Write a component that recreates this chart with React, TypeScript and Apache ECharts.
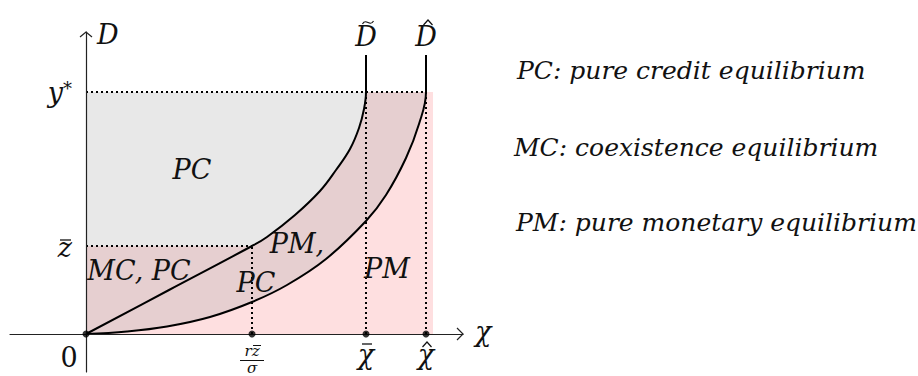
import React, { useEffect, useRef } from 'react';
import * as echarts from 'echarts';

// ---- data (axis units) ----
const xRange = [-7.6, 37.7];
const yRange = [-3.8, 30.2];

const xTickValues = [0, 16.6, 28.0, 34.0];
const xTickLabels = ['0', 'rz/σ', 'χ', 'χ'];
const xTickAccents = ['', 'bar', 'bar', 'hat'];
const yTickValues = [8.8, 24.2];
const yTickLabels = ['z', 'y*'];

const zBar = 8.8;
const yStar = 24.2;
const curveTop = 27.9;
const pinkRight = 34.7;

// D-tilde curve
const dTilde: number[][] = [
  [0, 0], [8.3, 4.4], [16.6, 8.8], [18.1, 9.7], [20.9, 11.9], [23.4, 14.3],
  [25.0, 16.4], [26.4, 18.5], [27.3, 20.6], [27.8, 22.5], [28.0, 24.2], [28.0, curveTop],
];
// D-hat curve
const dHat: number[][] = [
  [0, 0], [4.1, 0.25], [8.1, 0.75], [12.4, 1.7], [16.6, 3.2], [20.1, 4.9],
  [24.0, 7.5], [28.0, 11.3], [30.0, 13.9], [32.0, 17.6], [33.3, 21.0], [34.0, 24.2], [34.0, curveTop],
];

const curveNames = ['D', 'D'];
const curveAccents = ['tilde', 'hat'];
const axisNames = ['χ', 'D'];
const regionNames = ['PC', 'MC, PC', 'PM,', 'PC', 'PM'];
const regionAt: number[][] = [[10.6, 16.6], [5.3, 6.5], [21.1, 9.2], [17.0, 5.3], [30.1, 6.7]];
const legendLines = [
  'PC: pure credit equilibrium',
  'MC: coexistence equilibrium',
  'PM: pure monetary equilibrium',
];

const FONT = "'DejaVu Serif', serif";
const PINK = '#fedfe0';
const BROWN = '#e6cfd0';
const GRAY = '#e8e8e8';
const INK = '#111';
const LBL = 27;

export default function App() {
  const ref = useRef<HTMLDivElement>(null);
  useEffect(() => {
    document.body.style.margin = '0';
    const chart = echarts.init(ref.current!, undefined, { renderer: 'svg' });

    const polySeries = (pts: number[][], fill: string, z: number) => ({
      type: 'custom',
      coordinateSystem: 'cartesian2d',
      data: [[0, 0]],
      silent: true,
      clip: false,
      z,
      renderItem: (_p: any, api: any) => ({
        type: 'polygon',
        shape: { points: pts.map((p) => api.coord(p)) },
        style: { fill, stroke: null },
      }),
    });

    const pinkPts = [[0, 0], [pinkRight, 0], [pinkRight, yStar], [0, yStar]];
    const brownPts = [...dHat.filter((p) => p[1] <= yStar), [0, yStar]];
    const grayPts = [[0, zBar], ...dTilde.filter((p) => p[1] >= zBar && p[1] <= yStar), [0, yStar]];

    const guides = [
      [[0, yStar], [xTickValues[3], yStar]],
      [[0, zBar], [xTickValues[1], zBar]],
      [[xTickValues[1], 0], [xTickValues[1], zBar]],
      [[xTickValues[2], 0], [xTickValues[2], yStar]],
      [[xTickValues[3], 0], [xTickValues[3], yStar]],
    ];

    const txt = (x: number, y: number, text: string, size: number, align = 'center', italic = true, lh?: number) => ({
      type: 'text',
      x, y,
      style: {
        text, fontSize: size, fontFamily: FONT, fontStyle: italic ? 'italic' : 'normal',
        fill: INK, align, verticalAlign: 'middle', ...(lh ? { lineHeight: lh } : {}),
      },
    });
    const seg = (x1: number, y1: number, x2: number, y2: number, w = 1.2) => ({
      type: 'line', shape: { x1, y1, x2, y2 }, style: { stroke: INK, lineWidth: w },
    });
    const hat = (cx: number, cy: number) => ({
      type: 'polyline',
      shape: { points: [[cx - 4.5, cy + 3], [cx, cy - 2], [cx + 4.5, cy + 3]] },
      style: { stroke: INK, lineWidth: 1.2, fill: null },
    });
    const tilde = (cx: number, cy: number) => ({
      type: 'bezierCurve',
      shape: { x1: cx - 5.5, y1: cy + 1.5, cpx1: cx - 2, cpy1: cy - 5, cpx2: cx + 2, cpy2: cy + 5, x2: cx + 5.5, y2: cy - 1.5 },
      style: { stroke: INK, lineWidth: 1.2, fill: null },
    });

    // annotation labels drawn via data coordinates
    const annot = {
      type: 'custom',
      coordinateSystem: 'cartesian2d',
      data: [[0, 0]],
      silent: true,
      clip: false,
      z: 20,
      renderItem: (_p: any, api: any) => {
        const ch: any[] = [];
        // x tick labels
        const o = api.coord([xTickValues[0], 0]);
        ch.push(txt(o[0] - 17, o[1] + 23, xTickLabels[0], LBL, 'center', false));
        const f = api.coord([xTickValues[1], 0]);
        const [num, den] = xTickLabels[1].split('/');
        ch.push(txt(f[0], f[1] + 17, num, 15, 'center', true, 14));
        ch.push(seg(f[0] + 1, f[1] + 11.5, f[0] + 9, f[1] + 11.5, 1));
        ch.push(seg(f[0] - 12, f[1] + 26.5, f[0] + 12, f[1] + 26.5, 1));
        ch.push(txt(f[0], f[1] + 34, den, 15, 'center', true, 14));
        for (const i of [2, 3]) {
          const c = api.coord([xTickValues[i], 0]);
          ch.push(txt(c[0], c[1] + 20, xTickLabels[i], LBL));
          if (xTickAccents[i] === 'bar') ch.push(seg(c[0] - 4, c[1] + 10, c[0] + 6, c[1] + 10, 1.3));
          else ch.push(hat(c[0] + 1, c[1] + 10));
        }
        // y tick labels
        const zc = api.coord([0, yTickValues[0]]);
        ch.push(txt(zc[0] - 14, zc[1] + 1, yTickLabels[0], LBL, 'right'));
        ch.push(seg(zc[0] - 26, zc[1] - 6, zc[0] - 15, zc[1] - 6, 1.3));
        const yc = api.coord([0, yTickValues[1]]);
        ch.push(txt(yc[0] - 23, yc[1], yTickLabels[1].charAt(0), LBL, 'right'));
        ch.push(txt(yc[0] - 23, yc[1] - 4, yTickLabels[1].charAt(1), 18, 'left', false));
        // axis names
        const xe = api.coord([xRange[1], 0]);
        ch.push(txt(xe[0] + 12, xe[1] - 3, axisNames[0], LBL, 'left'));
        const ye = api.coord([0, yRange[1]]);
        ch.push(txt(ye[0] + 11, ye[1] + 2, axisNames[1], LBL, 'left'));
        // curve names
        [dTilde, dHat].forEach((crv, k) => {
          const t = api.coord(crv[crv.length - 1]);
          ch.push(txt(t[0], t[1] - 18.5, curveNames[k], LBL));
          if (curveAccents[k] === 'tilde') ch.push(tilde(t[0] + 2, t[1] - 32.5));
          else ch.push(hat(t[0] + 2, t[1] - 33));
        });
        // region names
        regionNames.forEach((n, i) => {
          const c = api.coord(regionAt[i]);
          ch.push(txt(c[0], c[1] + 1, n, LBL));
        });
        // arrow heads
        ch.push({ type: 'polyline', shape: { points: [[xe[0] - 6, xe[1] - 6], [xe[0], xe[1]], [xe[0] - 6, xe[1] + 6]] }, style: { stroke: '#222', lineWidth: 1.2, fill: null } });
        ch.push({ type: 'polyline', shape: { points: [[ye[0] - 6, ye[1] + 5], [ye[0], ye[1]], [ye[0] + 6, ye[1] + 5]] }, style: { stroke: '#222', lineWidth: 1.2, fill: null } });
        return { type: 'group', children: ch };
      },
    };

    const option: any = {
      animation: false,
      textStyle: { fontFamily: FONT },
      grid: { left: 10, top: 32, width: 453, height: 340 },
      xAxis: {
        type: 'value', min: xRange[0], max: xRange[1], z: 10,
        axisLine: { show: true, onZero: true, lineStyle: { color: '#222', width: 1.2 } },
        axisTick: { show: false }, axisLabel: { show: false }, splitLine: { show: false },
      },
      yAxis: {
        type: 'value', min: yRange[0], max: yRange[1], z: 10,
        axisLine: { show: true, onZero: true, lineStyle: { color: '#222', width: 1.2 } },
        axisTick: { show: false }, axisLabel: { show: false }, splitLine: { show: false },
      },
      graphic: legendLines.map((t, i) => ({
        type: 'text',
        left: [517, 514, 516][i],
        top: [70, 147, 222][i] - 12,
        style: { text: t, fontSize: 25, fontFamily: FONT, fontStyle: 'italic', fill: INK },
      })),
      series: [
        polySeries(pinkPts, PINK, 1),
        polySeries(brownPts, BROWN, 2),
        polySeries(grayPts, GRAY, 3),
        ...guides.map((g) => ({
          type: 'line', data: g, symbol: 'none', silent: true, z: 5,
          lineStyle: { color: '#000', width: 2, type: [2, 3], cap: 'butt' },
        })),
        {
          type: 'line', data: dTilde, symbol: 'none', smooth: 0.4, silent: true, z: 6,
          lineStyle: { color: '#000', width: 2 },
        },
        {
          type: 'line', data: dHat, symbol: 'none', smooth: 0.4, silent: true, z: 6,
          lineStyle: { color: '#000', width: 2 },
        },
        {
          type: 'scatter', data: xTickValues.map((v) => [v, 0]), symbolSize: 7, silent: true, z: 12,
          itemStyle: { color: '#000' },
        },
        annot,
      ],
    };
    chart.setOption(option);
    return () => chart.dispose();
  }, []);
  return <div ref={ref} style={{ width: 918, height: 376 }} />;
}
